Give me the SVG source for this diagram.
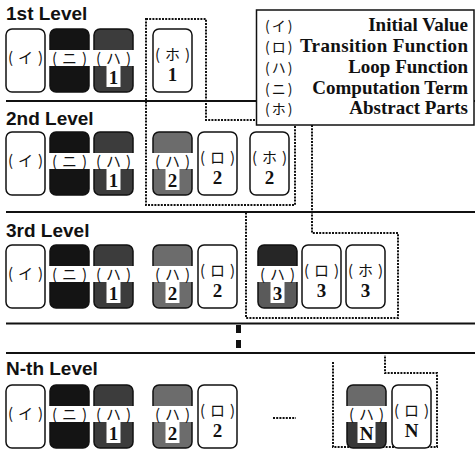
<svg xmlns="http://www.w3.org/2000/svg" xmlns:xlink="http://www.w3.org/1999/xlink" width="475" height="457" viewBox="0 0 475 457">
<style>
.bg{fill:#fff}
.card{stroke:#111;stroke-width:1.5}
.plain{fill:#fff}
.ni{fill:#141414}
.ha1{fill:#3c3c3c}
.ha2{fill:#6c6c6c}
.ha3{fill:url(#g3)}
.haN{fill:url(#gN)}
.wh{fill:#fff}
.mk{font-family:"Noto Sans CJK JP","Noto Sans CJK SC",sans-serif;font-size:15px;text-anchor:middle;letter-spacing:5px;fill:#111}
.lmk{font-family:"Noto Sans CJK JP","Noto Sans CJK SC",sans-serif;font-size:14px;letter-spacing:2px;fill:#111}
.num{font-family:"Liberation Serif","Times New Roman",serif;font-weight:bold;font-size:19px;text-anchor:middle;fill:#111}
.title{font-family:"Liberation Sans",Arial,sans-serif;font-weight:bold;font-size:19px;fill:#111}
.lg{font-family:"Liberation Serif","Times New Roman",serif;font-weight:bold;font-size:19px;text-anchor:end;fill:#111}
.rule{stroke:#111;stroke-width:2}
.dot{fill:none;stroke:#111;stroke-width:2;stroke-dasharray:2 1.2}
.dash{fill:#111}
</style>
<defs>
<linearGradient id="g3" x1="0" y1="0" x2="0" y2="1"><stop offset="0.45" stop-color="#262626"/><stop offset="0.45" stop-color="#5a5a5a"/></linearGradient>
<linearGradient id="gN" x1="0" y1="0" x2="0" y2="1"><stop offset="0.45" stop-color="#6a6a6a"/><stop offset="0.45" stop-color="#383838"/></linearGradient>
<rect id="cs" width="39" height="63" rx="6"/>
<rect id="band" x="-1" y="21" width="41" height="16"/>
<rect id="nbox" x="12.5" y="37" width="14" height="21"/>
<rect id="nboxW" x="10.5" y="37" width="18" height="21"/>
</defs>
<rect class="bg" x="0" y="0" width="475" height="457"/>

<g id="titles">
<text class="title" x="6" y="20">1st Level</text>
<text class="title" x="6" y="125">2nd Level</text>
<text class="title" x="6" y="237">3rd Level</text>
<text class="title" x="6" y="375">N-th Level</text>
</g>

<g id="connectors">
<line class="rule" x1="6" y1="101" x2="475" y2="101"/>
<line class="rule" x1="6" y1="212" x2="475" y2="212"/>
<line class="rule" x1="6" y1="323.5" x2="475" y2="323.5"/>
<line class="rule" x1="6" y1="353" x2="475" y2="353"/>
<rect class="dash" x="236" y="325" width="5" height="8"/>
<rect class="dash" x="236" y="340" width="5" height="8"/>
<path class="dot" d="M146,19 H206 V120 H295 V205 H146 Z"/>
<path class="dot" d="M312,125 V233 H398 V318 H246 V213"/>
<path class="dot" d="M333,362 V447 H437 V373 H385 V355"/>
<line class="dot" x1="273" y1="418" x2="296" y2="418"/>
</g>

<!-- Level 1 -->
<g id="l1-i" transform="translate(6,29)"><use href="#cs" class="card plain"/><text class="mk" x="22" y="34">(イ)</text></g>
<g id="l1-ni" transform="translate(50,29)"><use href="#cs" class="card ni"/><use href="#band" class="wh"/><text class="mk" x="22" y="34.5">(ニ)</text></g>
<g id="l1-ha1" transform="translate(94,29)"><use href="#cs" class="card ha1"/><use href="#band" class="wh"/><use href="#nbox" class="wh"/><text class="mk" x="22" y="34.5">(ハ)</text><text class="num" x="19.5" y="55">1</text></g>
<g id="l1-ho1" transform="translate(153,29)"><use href="#cs" class="card plain"/><text class="mk" x="22" y="31">(ホ)</text><text class="num" x="19.5" y="52">1</text></g>

<!-- Level 2 -->
<g id="l2-i" transform="translate(6,132)"><use href="#cs" class="card plain"/><text class="mk" x="22" y="34">(イ)</text></g>
<g id="l2-ni" transform="translate(50,132)"><use href="#cs" class="card ni"/><use href="#band" class="wh"/><text class="mk" x="22" y="34.5">(ニ)</text></g>
<g id="l2-ha1" transform="translate(94,132)"><use href="#cs" class="card ha1"/><use href="#band" class="wh"/><use href="#nbox" class="wh"/><text class="mk" x="22" y="34.5">(ハ)</text><text class="num" x="19.5" y="55">1</text></g>
<g id="l2-ha2" transform="translate(153,132)"><use href="#cs" class="card ha2"/><use href="#band" class="wh"/><use href="#nbox" class="wh"/><text class="mk" x="22" y="34.5">(ハ)</text><text class="num" x="19.5" y="55">2</text></g>
<g id="l2-ro2" transform="translate(198,132)"><use href="#cs" class="card plain"/><text class="mk" x="22" y="31">(ロ)</text><text class="num" x="19.5" y="52">2</text></g>
<g id="l2-ho2" transform="translate(250,132)"><use href="#cs" class="card plain"/><text class="mk" x="22" y="31">(ホ)</text><text class="num" x="19.5" y="52">2</text></g>

<!-- Level 3 -->
<g id="l3-i" transform="translate(6,245)"><use href="#cs" class="card plain"/><text class="mk" x="22" y="34">(イ)</text></g>
<g id="l3-ni" transform="translate(50,245)"><use href="#cs" class="card ni"/><use href="#band" class="wh"/><text class="mk" x="22" y="34.5">(ニ)</text></g>
<g id="l3-ha1" transform="translate(94,245)"><use href="#cs" class="card ha1"/><use href="#band" class="wh"/><use href="#nbox" class="wh"/><text class="mk" x="22" y="34.5">(ハ)</text><text class="num" x="19.5" y="55">1</text></g>
<g id="l3-ha2" transform="translate(153,245)"><use href="#cs" class="card ha2"/><use href="#band" class="wh"/><use href="#nbox" class="wh"/><text class="mk" x="22" y="34.5">(ハ)</text><text class="num" x="19.5" y="55">2</text></g>
<g id="l3-ro2" transform="translate(198,245)"><use href="#cs" class="card plain"/><text class="mk" x="22" y="31">(ロ)</text><text class="num" x="19.5" y="52">2</text></g>
<g id="l3-ha3" transform="translate(258,245)"><use href="#cs" class="card ha3"/><use href="#band" class="wh"/><use href="#nbox" class="wh"/><text class="mk" x="22" y="34.5">(ハ)</text><text class="num" x="19.5" y="55">3</text></g>
<g id="l3-ro3" transform="translate(302,245)"><use href="#cs" class="card plain"/><text class="mk" x="22" y="31">(ロ)</text><text class="num" x="19.5" y="52">3</text></g>
<g id="l3-ho3" transform="translate(346,245)"><use href="#cs" class="card plain"/><text class="mk" x="22" y="31">(ホ)</text><text class="num" x="19.5" y="52">3</text></g>

<!-- Level N -->
<g id="ln-i" transform="translate(6,385)"><use href="#cs" class="card plain"/><text class="mk" x="22" y="34">(イ)</text></g>
<g id="ln-ni" transform="translate(50,385)"><use href="#cs" class="card ni"/><use href="#band" class="wh"/><text class="mk" x="22" y="34.5">(ニ)</text></g>
<g id="ln-ha1" transform="translate(94,385)"><use href="#cs" class="card ha1"/><use href="#band" class="wh"/><use href="#nbox" class="wh"/><text class="mk" x="22" y="34.5">(ハ)</text><text class="num" x="19.5" y="55">1</text></g>
<g id="ln-ha2" transform="translate(153,385)"><use href="#cs" class="card ha2"/><use href="#band" class="wh"/><use href="#nbox" class="wh"/><text class="mk" x="22" y="34.5">(ハ)</text><text class="num" x="19.5" y="55">2</text></g>
<g id="ln-ro2" transform="translate(198,385)"><use href="#cs" class="card plain"/><text class="mk" x="22" y="31">(ロ)</text><text class="num" x="19.5" y="52">2</text></g>
<g id="ln-haN" transform="translate(347,385)"><use href="#cs" class="card haN"/><use href="#band" class="wh"/><use href="#nboxW" class="wh"/><text class="mk" x="22" y="34.5">(ハ)</text><text class="num" x="19.5" y="55">N</text></g>
<g id="ln-roN" transform="translate(392,385)"><use href="#cs" class="card plain"/><text class="mk" x="22" y="31">(ロ)</text><text class="num" x="19.5" y="52">N</text></g>

<!-- Legend -->
<g id="legend">
<rect x="256.5" y="10" width="217.5" height="115" fill="#fff" stroke="#111" stroke-width="1.5"/>
<text class="lmk" x="265" y="31">(イ)</text><text class="lg" x="468" y="31">Initial Value</text>
<text class="lmk" x="265" y="52">(ロ)</text><text class="lg" x="468" y="52" textLength="168" lengthAdjust="spacing">Transition Function</text>
<text class="lmk" x="265" y="73">(ハ)</text><text class="lg" x="468" y="73">Loop Function</text>
<text class="lmk" x="265" y="94">(ニ)</text><text class="lg" x="468" y="94">Computation Term</text>
<text class="lmk" x="265" y="114">(ホ)</text><text class="lg" x="468" y="114">Abstract Parts</text>
</g>
</svg>
